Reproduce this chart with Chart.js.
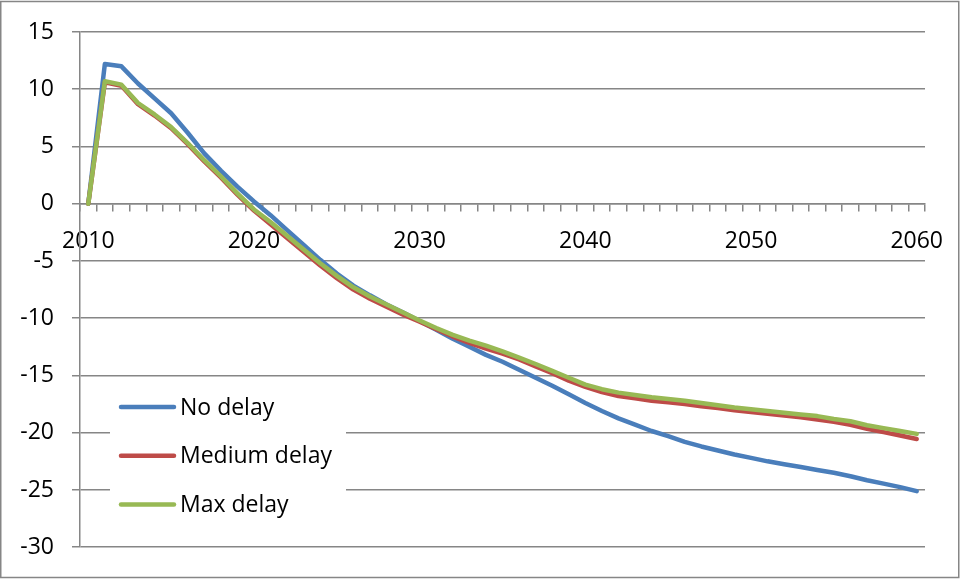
<!DOCTYPE html>
<html>
<head>
<meta charset="utf-8">
<style>
  html, body { margin: 0; padding: 0; background: #fff; }
  #wrap { width: 961px; height: 579px; position: relative; }
</style>
<script src="https://cdn.jsdelivr.net/npm/chart.js@4.4.1/dist/chart.umd.min.js"></script>
</head>
<body>
<div id="wrap"><canvas id="myChart" width="961" height="579"></canvas></div>
<script>
var years = [];
for (var y = 2010; y <= 2060; y++) years.push(String(y));

var seriesNames = ["No delay", "Medium delay", "Max delay"];

var noDelay = [
  0, 12.2, 12.0, 10.5, 9.2, 7.9, 6.2, 4.4, 2.9, 1.5,
  0.2, -1.0, -2.3, -3.6, -4.9, -6.1, -7.15, -8.0, -8.8, -9.5,
  -10.25, -11.0, -11.8, -12.5, -13.2, -13.8, -14.5, -15.2, -15.9, -16.65,
  -17.4, -18.1, -18.75, -19.3, -19.85, -20.3, -20.8, -21.2, -21.55, -21.9,
  -22.2, -22.5, -22.75, -23.0, -23.25, -23.5, -23.8, -24.15, -24.45, -24.75, -25.1
];

var mediumDelay = [
  0, 10.6, 10.3, 8.7, 7.7, 6.6, 5.2, 3.7, 2.3, 0.8,
  -0.6, -1.8, -3.0, -4.2, -5.4, -6.5, -7.5, -8.3, -9.0, -9.7,
  -10.3, -10.95, -11.6, -12.15, -12.65, -13.1, -13.6, -14.2, -14.8, -15.45,
  -16.0, -16.45, -16.8, -17.0, -17.2, -17.35, -17.5, -17.7, -17.85, -18.05,
  -18.2, -18.35, -18.5, -18.65, -18.85, -19.05, -19.3, -19.65, -19.95, -20.25, -20.55
];

var maxDelay = [
  0, 10.7, 10.4, 8.8, 7.8, 6.7, 5.3, 3.8, 2.4, 0.9,
  -0.5, -1.6, -2.8, -4.0, -5.2, -6.3, -7.3, -8.1, -8.8, -9.5,
  -10.2, -10.85, -11.45, -11.95, -12.4, -12.9, -13.45, -14.0, -14.6, -15.2,
  -15.8, -16.2, -16.5, -16.7, -16.9, -17.05, -17.2, -17.4, -17.6, -17.8,
  -17.95, -18.1, -18.25, -18.4, -18.55, -18.8, -19.0, -19.35, -19.6, -19.85, -20.1
];

var yTicks = [-30, -25, -20, -15, -10, -5, 0, 5, 10, 15];

var colors = ["#4a7ebb", "#be4b48", "#98b954"];
var axisGray = "#868686";
var fontFamily = "'Open Sans', 'Liberation Sans', sans-serif";

Chart.defaults.font.family = fontFamily;
Chart.defaults.font.size = 23;
Chart.defaults.color = "#000";

function lineSet(i, values, order) {
  return {
    label: seriesNames[i],
    data: values,
    borderColor: colors[i],
    backgroundColor: colors[i],
    borderWidth: 4.5,
    pointRadius: 0,
    tension: 0,
    borderCapStyle: "round",
    borderJoinStyle: "round",
    order: order,
  };
}

var data = {
  labels: years,
  datasets: [
    lineSet(0, noDelay, 3),
    lineSet(1, mediumDelay, 2),
    lineSet(2, maxDelay, 1),
  ],
};

// outer frame of the chart
var framePlugin = {
  id: "frame",
  beforeDraw: function (chart) {
    var c = chart.ctx;
    c.save();
    c.fillStyle = "#fff";
    c.fillRect(0, 0, chart.width, chart.height);
    c.strokeStyle = axisGray;
    c.lineWidth = 1.5;
    c.strokeRect(0.75, 1.5, chart.width - 3, chart.height - 3);
    c.restore();
  },
};

// legend box sitting inside the plot, lower left
var insideLegend = {
  id: "insideLegend",
  afterDraw: function (chart) {
    var c = chart.ctx;
    c.save();
    c.fillStyle = "#fff";
    c.fillRect(110, 384, 236, 143);
    c.font = "23px " + fontFamily;
    c.textBaseline = "middle";
    c.textAlign = "left";
    for (var i = 0; i < seriesNames.length; i++) {
      var ly = 407 + i * 48.7;
      c.strokeStyle = colors[i];
      c.lineWidth = 4.5;
      c.lineCap = "round";
      c.beginPath();
      c.moveTo(121, ly);
      c.lineTo(174, ly);
      c.stroke();
      c.fillStyle = "#000";
      c.fillText(seriesNames[i], 180, ly + 1);
    }
    c.restore();
  },
};

var options = {
  responsive: false,
  animation: false,
  layout: {
    padding: { top: 32, right: 36, bottom: 31, left: 0 },
  },
  plugins: {
    legend: { display: false },
    tooltip: { enabled: false },
  },
  scales: {
    x: {
      type: "category",
      offset: true,
      position: { y: 0 },
      grid: {
        offset: true,
        drawOnChartArea: false,
        drawTicks: true,
        tickLength: 7,
        color: axisGray,
        lineWidth: 1.5,
      },
      border: { display: true, color: axisGray, width: 1.5 },
      ticks: {
        autoSkip: false,
        maxRotation: 0,
        minRotation: 0,
        padding: 17,
        callback: function (value, index) {
          return Number(years[index]) % 10 === 0 ? years[index] : "";
        },
      },
    },
    y: {
      min: -30,
      max: 15,
      afterBuildTicks: function (scale) {
        scale.ticks = yTicks.map(function (v) { return { value: v }; });
      },
      afterFit: function (scale) {
        scale.width = 80;
      },
      grid: {
        color: axisGray,
        lineWidth: 1.5,
        tickLength: 8,
      },
      border: { display: true, color: axisGray, width: 1.5 },
      ticks: {
        padding: 18,
      },
    },
  },
};

const ctx = document.getElementById("myChart").getContext("2d");
const myChart = new Chart(ctx, {
  type: "line",
  data: data,
  options: options,
  plugins: [framePlugin, insideLegend],
});
</script>
</body>
</html>
